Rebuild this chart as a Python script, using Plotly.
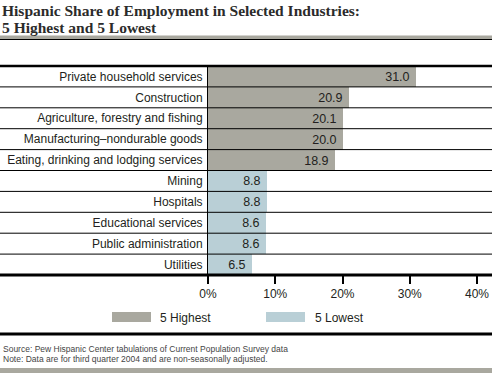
import plotly.graph_objects as go

# ---- data ----
high_categories = ["Private household services", "Construction", "Agriculture, forestry and fishing",
                   "Manufacturing\u2013nondurable goods", "Eating, drinking and lodging services"]
high_values = [31.0, 20.9, 20.1, 20.0, 18.9]
low_categories = ["Mining", "Hospitals", "Educational services", "Public administration", "Utilities"]
low_values = [8.8, 8.8, 8.6, 8.6, 6.5]
series_names = ["5 Highest", "5 Lowest"]
tick_values = [0, 10, 20, 30, 40]
tick_labels = ["0%", "10%", "20%", "30%", "40%"]
title_lines = ["Hispanic Share of Employment in Selected Industries:", "5 Highest and 5 Lowest"]
source_lines = ["Source: Pew Hispanic Center tabulations of Current Population Survey data",
                "Note: Data are for third quarter 2004 and are non-seasonally adjusted."]

# ---- style ----
W, H = 492, 373
ML, MR, MT, MB = 208, 0, 66, 98
GRAY = "#a9a89f"
BLUE = "#b9cfd6"
TXT = "#231f20"
FONT = "Liberation Sans"

PW = W - ML - MR
PH = H - MT - MB


def py(ypx):
    return (H - MB - ypx) / PH


def px(xpx):
    return (xpx - ML) / PW


all_cats = high_categories + low_categories
fig = go.Figure()
for name, cats, vals, col in [(series_names[0], high_categories, high_values, GRAY),
                              (series_names[1], low_categories, low_values, BLUE)]:
    fig.add_trace(go.Bar(
        x=vals, y=cats, orientation="h", name=name, marker=dict(color=col, line=dict(width=0)),
        text=[f"{v:.1f}\u00a0" for v in vals], textposition="inside", insidetextanchor="end",
        textfont=dict(family=FONT, size=12.5, color=TXT), showlegend=False, cliponaxis=False,
        hoverinfo="skip"))

shapes = []
n = len(all_cats)
for k in range(1, n):
    shapes.append(dict(type="line", xref="paper", yref="paper", x0=px(0), x1=1, y0=k / n, y1=k / n,
                       line=dict(color="black", width=1)))
shapes.append(dict(type="line", xref="paper", yref="paper", x0=px(0), x1=1, y0=1, y1=1,
                   line=dict(color="black", width=2.5)))
shapes.append(dict(type="line", xref="paper", yref="paper", x0=px(0), x1=1, y0=0, y1=0,
                   line=dict(color="black", width=3)))
# title rule
shapes.append(dict(type="rect", xref="paper", yref="paper", x0=px(0), x1=1, y0=py(39), y1=py(35.5),
                   fillcolor=GRAY, line=dict(width=0)))
shapes.append(dict(type="line", xref="paper", yref="paper", x0=px(0), x1=1, y0=py(39.5), y1=py(39.5),
                   line=dict(color="black", width=1)))
# legend separator + bottom rule
shapes.append(dict(type="line", xref="paper", yref="paper", x0=px(0), x1=1, y0=py(334), y1=py(334),
                   line=dict(color="black", width=3)))
shapes.append(dict(type="rect", xref="paper", yref="paper", x0=px(0), x1=1, y0=py(373), y1=py(368),
                   fillcolor=GRAY, line=dict(width=0)))
# legend swatches
for x0, col in [(112, GRAY), (266, BLUE)]:
    shapes.append(dict(type="rect", xref="paper", yref="paper", x0=px(x0), x1=px(x0 + 39),
                       y0=py(322), y1=py(312), fillcolor=col, line=dict(width=0)))

annotations = []
for i, t in enumerate(title_lines):
    annotations.append(dict(text=f"<b>{t}</b>", xref="paper", yref="paper", x=px(0), y=py(10.5 + 17 * i),
                            xanchor="left", yanchor="middle", showarrow=False,
                            font=dict(family="Liberation Serif", size=15.5, color="#2b2b2b")))
for x0, name in [(158, series_names[0]), (313, series_names[1])]:
    annotations.append(dict(text=name, xref="paper", yref="paper", x=px(x0), y=py(317.5),
                            xanchor="left", yanchor="middle", showarrow=False,
                            font=dict(family=FONT, size=12, color=TXT)))
for i, t in enumerate(source_lines):
    annotations.append(dict(text=t, xref="paper", yref="paper", x=px(1), y=py(349 + 10 * i),
                            xanchor="left", yanchor="middle", showarrow=False,
                            font=dict(family=FONT, size=8.5, color="#444")))

fig.update_layout(
    width=W, height=H, margin=dict(l=ML, r=MR, t=MT, b=MB, pad=0, autoexpand=False),
    paper_bgcolor="white", plot_bgcolor="white", bargap=0, barmode="overlay",
    shapes=shapes, annotations=annotations, showlegend=False,
    xaxis=dict(range=[0, (W - ML - MR) / ((477 - 208) / 40)], tickmode="array",
               tickvals=tick_values, ticktext=tick_labels,
               ticks="outside", ticklen=8, tickwidth=1.5, tickcolor="black", showgrid=False,
               zeroline=False, showline=False, tickfont=dict(family=FONT, size=12, color=TXT),
               fixedrange=True),
    yaxis=dict(categoryorder="array", categoryarray=all_cats, autorange="reversed", showgrid=False,
               zeroline=False, showline=True, linecolor="black", linewidth=1, ticks="",
               ticklabelstandoff=2, tickfont=dict(family=FONT, size=12, color=TXT), fixedrange=True),
)

fig.write_html("out.html", config={"displayModeBar": False},
               post_script="document.body.style.margin='0';document.body.style.overflow='hidden';")
